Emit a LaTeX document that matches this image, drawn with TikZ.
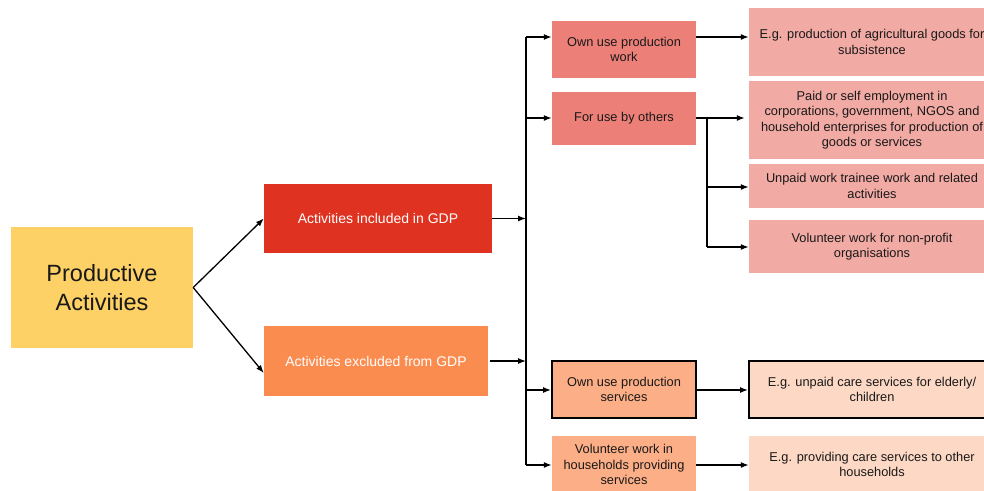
\documentclass[tikz,border=0pt]{standalone}
\usepackage{fontspec}
\setmainfont{Liberation Sans}
\usetikzlibrary{arrows.meta,calc}
\definecolor{cYellow}{RGB}{254,209,102}
\definecolor{cRed}{RGB}{224,50,32}
\definecolor{cOrange}{RGB}{251,140,80}
\definecolor{cSalmon}{RGB}{236,128,120}
\definecolor{cPink}{RGB}{242,170,164}
\definecolor{cPeach}{RGB}{252,174,134}
\definecolor{cLightPeach}{RGB}{253,216,196}
\tikzset{
  box/.style={rectangle, inner sep=0pt, align=center, text=black!90,
              font=\fontsize{12.8}{15.5}\selectfont},
  mid/.style={box, minimum width=144pt},
  leaf/.style={box, minimum width=246pt},
  heavy/.style={draw=black, line width=2pt},
  arr/.style={-{Latex[length=8pt,width=6pt]}, line width=1.3pt, black},
  wire/.style={line width=1.3pt, black},
}
\begin{document}
\begin{tikzpicture}[x=1pt,y=-1pt]
\clip (0,0) rectangle (984,490);
\fill[white] (0,0) rectangle (984,490);

% root and first split
\node[box, fill=cYellow, minimum width=182pt, minimum height=121pt,
      font=\fontsize{23.5}{29}\selectfont] (prod) at (102,287.5) {Productive\\Activities};
\node[box, fill=cRed, text=white, minimum width=228pt, minimum height=69pt,
      font=\fontsize{14}{17}\selectfont] (inc) at (378,218.5) {Activities included in GDP};
\node[box, fill=cOrange, text=white, minimum width=224pt, minimum height=70pt,
      font=\fontsize{14}{17}\selectfont] (exc) at (376,361) {Activities excluded from GDP};

% middle column
\node[mid, fill=cSalmon, minimum height=57pt] (own) at (624,49.5) {Own use production\\work};
\node[mid, fill=cSalmon, minimum height=53pt] (oth) at (624,118.5) {For use by others};
\node[mid, fill=cPeach, minimum height=57pt, heavy] (osv) at (624,389.5) {Own use production\\services};
\node[mid, fill=cPeach, minimum height=57pt] (vhh) at (624,464.5) {Volunteer work in\\households providing\\services};

% right column
\node[leaf, fill=cPink, minimum height=68pt] (agri) at (872,42) {E.g. production of agricultural goods for\\subsistence};
\node[leaf, fill=cPink, minimum height=78pt] (paid) at (872,120) {Paid or self employment in\\corporations, government, NGOS and\\household enterprises for production of\\goods or services};
\node[leaf, fill=cPink, minimum height=44pt] (unp) at (872,186) {Unpaid work trainee work and related\\activities};
\node[leaf, fill=cPink, minimum height=53pt] (vnp) at (872,246.5) {Volunteer work for non-profit\\organisations};
\node[leaf, fill=cLightPeach, minimum height=57pt, heavy] (care) at (872,389.5) {E.g. unpaid care services for elderly/\\children};
\node[leaf, fill=cLightPeach, minimum height=57pt] (prov) at (872,464.5) {E.g. providing care services to other\\households};

% root arrows
\draw[arr] (prod.east) -- (inc.west);
\draw[arr] (prod.east) -- ([yshift=-12pt]exc.west);

% trunk
\coordinate (t1) at (526,37);
\coordinate (t2) at (526,118);
\coordinate (t3) at (526,390);
\coordinate (t4) at (526,465);
\draw[wire] (t1) -- (t4);
\draw[arr] (inc.east) -- (inc.east -| t1);
\draw[arr] ([xshift=2pt]exc.east) -- (exc.east -| t1);

\draw[arr] (t1) -- (t1 -| own.west);
\draw[arr] (t2) -- (t2 -| oth.west);
\draw[arr] (t3) -- (t3 -| osv.west);
\draw[arr] (t4) -- (t4 -| vhh.west);

% second level arrows
\draw[arr] (t1 -| own.east) -- (t1 -| agri.west);
\draw[arr] (t2 -| oth.east) -- ([xshift=-4pt]t2 -| paid.west);
\coordinate (b1) at (707,118);
\coordinate (b2) at (707,187);
\coordinate (b3) at (707,247);
\draw[wire] (b1) -- (b3);
\draw[arr] (b2) -- (b2 -| unp.west);
\draw[arr] (b3) -- (b3 -| vnp.west);
\draw[arr] (t3 -| osv.east) -- (t3 -| care.west);
\draw[arr] (t4 -| vhh.east) -- (t4 -| prov.west);
\end{tikzpicture}
\end{document}
